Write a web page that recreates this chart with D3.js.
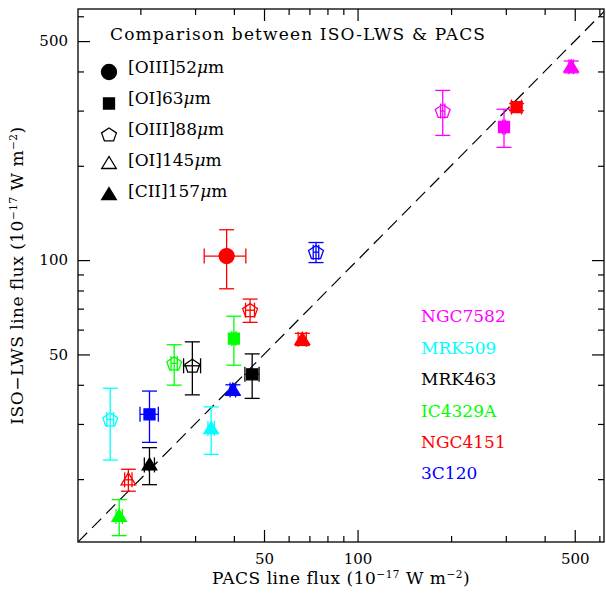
<!DOCTYPE html>
<html><head><meta charset="utf-8">
<script src="https://cdn.jsdelivr.net/npm/d3@7"></script>
<style>body{margin:0;background:#fff} svg{display:block} text{font-family:"DejaVu Serif",serif}</style>
</head><body><svg id="c" width="606" height="594"></svg>
<script>
// ---------- data ----------
const galaxies = ["NGC7582","MRK509","MRK463","IC4329A","NGC4151","3C120"];
const galaxyColors = ["#ff00ff","#00ffff","#000000","#00ff00","#ff0000","#0000ff"];
const lineNames = ["[OIII]52","[OI]63","[OIII]88","[OI]145","[CII]157"];
const lineShapes = ["circle","square","pentagon","triangleOpen","triangle"];

const pointGalaxy = [0,0,0, 4,4,4,4,4, 1,1, 2,2,2, 3,3,3, 5,5,5];
const pointLine   = [2,1,4, 1,0,2,4,3, 2,4, 2,1,4, 2,1,4, 2,1,4];
const pacsFlux = [188,296,487, 325,37.9,45.1,66.4,18.3, 16.0,33.8, 29.4,45.8,21.4, 25.7,40.0,17.1, 73.5,21.4,39.7];
const pacsErr  = [3,3,8, 12,5.8,1.5,2,0.5, 0.4,0.8, 1.85,2.4,0.8, 0.6,0.6,0.4, 1.5,1.45,0.8];
const isoFlux  = [299,266,414, 308,103,69.2,55.9,19.9, 31.0,29.0, 46.0,43.2,22.2, 46.8,56.2,15.2, 106,32.2,38.5];
const isoErr   = [49,37,18, 8,22,5.9,2.5,1.6, 8,5, 8.85,7,3, 6.9,10,2, 7.8,6,1.5];

const majorTicks = [50,100,500];
const minorTicks = [20,30,40,60,70,80,90,200,300,400,600];
const xDomain = [12.6, 621];
const yDomain = [12.6, 633];

// ---------- layout ----------
const L = 78, R = 604, T = 9, B = 542;
const svg = d3.select("#c");
const x = d3.scaleLog().domain(xDomain).range([L, R]);
const y = d3.scaleLog().domain(yDomain).range([B, T]);

svg.append("defs").append("clipPath").attr("id","clip")
  .append("rect").attr("x",L).attr("y",T).attr("width",R-L).attr("height",B-T);

// axes
function styleAxis(g){ g.select(".domain").remove(); g.selectAll("line").attr("stroke","#000").attr("stroke-width",1.2);
  g.selectAll("text").attr("font-family","DejaVu Serif").attr("font-size",15).attr("fill","#000"); }
svg.append("g").attr("transform",`translate(0,${B})`)
  .call(d3.axisBottom(x).tickValues(majorTicks).tickSize(-12).tickPadding(11).tickFormat(d3.format("d"))).call(styleAxis);
svg.append("g").attr("transform",`translate(0,${B})`)
  .call(d3.axisBottom(x).tickValues(minorTicks).tickSize(-6).tickFormat("")).call(styleAxis);
svg.append("g").attr("transform",`translate(0,${T})`)
  .call(d3.axisTop(x).tickValues(majorTicks).tickSize(-12).tickFormat("")).call(styleAxis);
svg.append("g").attr("transform",`translate(0,${T})`)
  .call(d3.axisTop(x).tickValues(minorTicks).tickSize(-6).tickFormat("")).call(styleAxis);
svg.append("g").attr("transform",`translate(${L},0)`)
  .call(d3.axisLeft(y).tickValues(majorTicks).tickSize(-12).tickPadding(10).tickFormat(d3.format("d"))).call(styleAxis);
svg.append("g").attr("transform",`translate(${L},0)`)
  .call(d3.axisLeft(y).tickValues(minorTicks).tickSize(-6).tickFormat("")).call(styleAxis);
svg.append("g").attr("transform",`translate(${R},0)`)
  .call(d3.axisRight(y).tickValues(majorTicks).tickSize(-12).tickFormat("")).call(styleAxis);
svg.append("g").attr("transform",`translate(${R},0)`)
  .call(d3.axisRight(y).tickValues(minorTicks).tickSize(-6).tickFormat("")).call(styleAxis);

svg.append("rect").attr("x",L).attr("y",T).attr("width",R-L).attr("height",B-T)
  .attr("fill","none").attr("stroke","#000").attr("stroke-width",1.3);

// one-to-one dashed line
const oneToOne = [Math.min(xDomain[0],yDomain[0]), Math.max(xDomain[1],yDomain[1])];
svg.append("path").attr("clip-path","url(#clip)")
  .attr("d", d3.line().x(d=>x(d)).y(d=>y(d))(oneToOne))
  .attr("fill","none").attr("stroke","#000").attr("stroke-width",1.2).attr("stroke-dasharray","13,7");

// marker shapes
function pentagonPath(r){ const p=[]; for(let i=0;i<5;i++){const a=-Math.PI/2+i*2*Math.PI/5; p.push([r*Math.cos(a), r*Math.sin(a)*0.92+0.6]);} return "M"+p.map(q=>q.join(",")).join("L")+"Z"; }
function drawMarker(g, shape, cx, cy, color){
  const sel = g.append("path").attr("transform",`translate(${cx},${cy})`);
  let d, filled = true;
  if(shape==="circle"){ d = d3.symbol(d3.symbolCircle, Math.PI*7.5*7.5)(); }
  else if(shape==="square"){ d = "M-5.5,-5.5H5.5V5.5H-5.5Z"; }
  else if(shape==="pentagon"){ d = pentagonPath(7.8); filled=false; }
  else { d = "M0,-7L7.3,5L-7.3,5Z"; filled = shape==="triangle"; }
  sel.attr("d", d).attr("fill", filled?color:"none").attr("stroke", color).attr("stroke-width", 1.3);
}

// error bars + points
const pts = svg.append("g").attr("clip-path","url(#clip)");
const cap = 7.5;
pacsFlux.forEach((px,i)=>{
  const c = galaxyColors[pointGalaxy[i]];
  const cx = x(px), cy = y(isoFlux[i]);
  const g = pts.append("g").attr("stroke",c).attr("stroke-width",1.3).attr("fill","none");
  const y1 = y(isoFlux[i]-isoErr[i]), y2 = y(isoFlux[i]+isoErr[i]);
  const x1 = x(px-pacsErr[i]), x2 = x(px+pacsErr[i]);
  g.append("line").attr("x1",cx).attr("x2",cx).attr("y1",y1).attr("y2",y2);
  g.append("line").attr("x1",cx-cap).attr("x2",cx+cap).attr("y1",y1).attr("y2",y1);
  g.append("line").attr("x1",cx-cap).attr("x2",cx+cap).attr("y1",y2).attr("y2",y2);
  g.append("line").attr("x1",x1).attr("x2",x2).attr("y1",cy).attr("y2",cy);
  g.append("line").attr("x1",x1).attr("x2",x1).attr("y1",cy-cap).attr("y2",cy+cap);
  g.append("line").attr("x1",x2).attr("x2",x2).attr("y1",cy-cap).attr("y2",cy+cap);
  drawMarker(pts, lineShapes[pointLine[i]], cx, cy, c);
});

// legend
svg.append("text").attr("x",110).attr("y",40).attr("font-size",17)
  .attr("textLength",375).attr("lengthAdjust","spacing").text("Comparison between ISO-LWS & PACS");
const legBase = [73,104,135,166,197];
const legMark = [72,103.5,134.5,163.5,194.5];
lineNames.forEach((n,i)=>{
  drawMarker(svg, lineShapes[i], 109, legMark[i], "#000");
  const t = svg.append("text").attr("x",128).attr("y",legBase[i]).attr("font-size",17);
  t.append("tspan").text(n);
  t.append("tspan").attr("font-style","italic").text("μ");
  t.append("tspan").text("m");
});

// galaxy names
const galBase = [322,354,385,416.5,447.5,479];
galaxies.forEach((g,i)=>{
  svg.append("text").attr("x",421).attr("y",galBase[i]).attr("font-size",17)
    .attr("fill",galaxyColors[i]).text(g);
});

// axis titles
function axisTitle(t, pre){
  t.attr("font-size",17).attr("letter-spacing",0.5).attr("text-anchor","middle");
  t.append("tspan").text(pre+" line flux (10");
  t.append("tspan").attr("dy",-6).attr("font-size",10.5).text("−17");
  t.append("tspan").attr("dy",6).text(" W m");
  t.append("tspan").attr("dy",-6).attr("font-size",10.5).text("−2");
  t.append("tspan").attr("dy",6).text(")");
}
axisTitle(svg.append("text").attr("x",(L+R)/2).attr("y",584), "PACS");
axisTitle(svg.append("text").attr("transform",`translate(23,${(T+B)/2}) rotate(-90)`), "ISO−LWS");
</script></body></html>
